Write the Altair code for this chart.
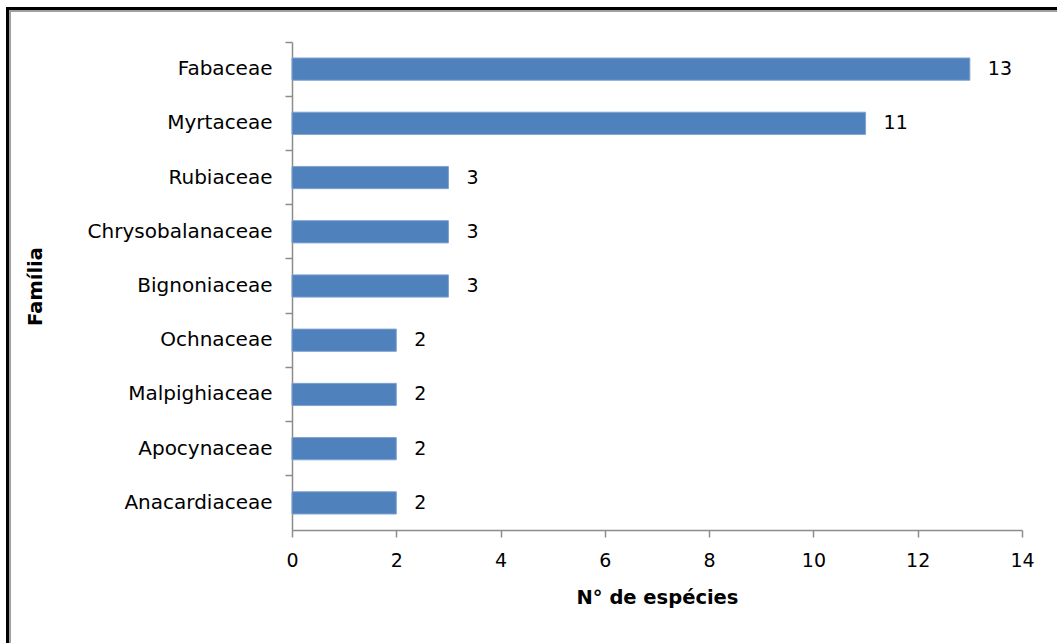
import altair as alt
import pandas as pd

familias = ["Fabaceae", "Myrtaceae", "Rubiaceae", "Chrysobalanaceae", "Bignoniaceae",
            "Ochnaceae", "Malpighiaceae", "Apocynaceae", "Anacardiaceae"]
especies = [13, 11, 3, 3, 3, 2, 2, 2, 2]
x_ticks = [0, 2, 4, 6, 8, 10, 12, 14]

df = pd.DataFrame({"Família": familias, "N": especies})
FONT = "DejaVu Sans"

y_enc = alt.Y("Família:N", sort=familias,
              scale=alt.Scale(paddingInner=0, paddingOuter=0),
              axis=alt.Axis(title="Família", titleFontSize=19.5, titleFont=FONT,
                            titleFontWeight="bold", titleColor="#000000",
                            titleAngle=270, titleX=-257, titleY=244,
                            titleAlign="center", titleBaseline="middle",
                            labelFontSize=20, labelFont=FONT, labelColor="#000000",
                            labelLimit=400, labelPadding=13, tickSize=7,
                            tickColor="#8c8c8c", domainColor="#8c8c8c",
                            domainWidth=1.5, tickWidth=1.5,
                            bandPosition=0, grid=False))

x_enc = alt.X("N:Q", scale=alt.Scale(domain=[0, 14], nice=False),
              axis=alt.Axis(title="N° de espécies", values=x_ticks, titleFontSize=19.5,
                            titleFont=FONT, titleFontWeight="bold", titleColor="#000000",
                            titleY=67, titleBaseline="middle",
                            labelFontSize=19, labelFont=FONT, labelColor="#000000",
                            labelFlush=False, labelPadding=14, tickSize=7,
                            tickColor="#8c8c8c", domainColor="#8c8c8c",
                            domainWidth=1.5, tickWidth=1.5, grid=False))

bars = alt.Chart(df).mark_bar(color="#4F81BD", stroke="#7FA3D0", strokeWidth=1,
                              height={"band": 0.41}).encode(y=y_enc, x=x_enc)

labels = alt.Chart(df).mark_text(align="left", baseline="middle", dx=18, font=FONT,
                                 fontSize=19, color="#000000").encode(
    y=alt.Y("Família:N", sort=familias), x="N:Q", text="N:Q")

one = pd.DataFrame({"a": [0]})
left_black = alt.Chart(one).mark_rule(color="#000000", strokeWidth=3).encode(
    x=alt.value(-284.5), y=alt.value(-35), y2=alt.value(601))
left_gray = alt.Chart(one).mark_rule(color="#a0a0a0", strokeWidth=2).encode(
    x=alt.value(-282), y=alt.value(-32), y2=alt.value(601))
top_black = alt.Chart(one).mark_rule(color="#000000", strokeWidth=3).encode(
    y=alt.value(-33.5), x=alt.value(-286), x2=alt.value(765))
top_gray = alt.Chart(one).mark_rule(color="#a0a0a0", strokeWidth=2).encode(
    y=alt.value(-31), x=alt.value(-283), x2=alt.value(765))

chart = alt.layer(bars, labels, left_black, left_gray, top_black, top_gray).properties(
    width=730, height=488,
    autosize=alt.AutoSizeParams(type="none"),
    padding={"left": 292, "top": 42, "right": 35, "bottom": 113},
    background="#ffffff"
).configure_view(stroke=None)

chart.save("out.html", embed_options={"renderer": "svg", "actions": False})
